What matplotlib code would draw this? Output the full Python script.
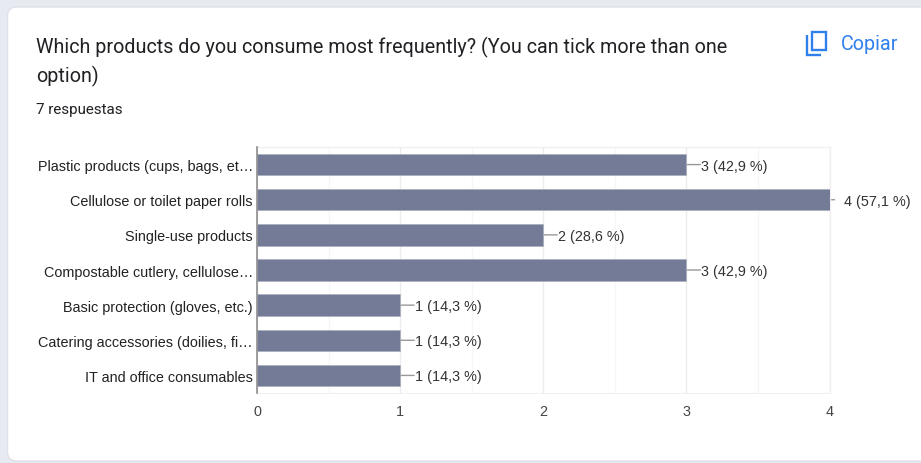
import matplotlib
matplotlib.use("Agg")
import matplotlib.pyplot as plt
from matplotlib.patches import FancyBboxPatch, Rectangle
from matplotlib.path import Path
from matplotlib.patches import PathPatch
from matplotlib.transforms import IdentityTransform

categories = [
    "Plastic products (cups, bags, et…",
    "Cellulose or toilet paper rolls",
    "Single-use products",
    "Compostable cutlery, cellulose…",
    "Basic protection (gloves, etc.)",
    "Catering accessories (doilies, fi…",
    "IT and office consumables",
]
counts = [3, 4, 2, 3, 1, 1, 1]
shares = ["42,9", "57,1", "28,6", "42,9", "14,3", "14,3", "14,3"]
x_ticks = [0, 1, 2, 3, 4]
x_minor = [0.5, 1.5, 2.5, 3.5]

W, H = 921, 464
BAR = "#737b96"
TEXT = "#202124"
LABEL = "#333333"
BLUE = "#2f80ed"

fig = plt.figure(figsize=(W / 100, H / 100), dpi=100, facecolor="#e8eaf1")


def px(x, y):
    return x, H - y


# Card behind the question
card = FancyBboxPatch((7.5, 2), W + 40, H - 10, boxstyle="round,pad=0,rounding_size=9",
                      transform=IdentityTransform(), fc="white", ec="#dfe1e8", lw=1, zorder=-5)
fig.add_artist(card)

fig.text(36 / W, 1 - 47 / H, "Which products do you consume most frequently? (You can tick more than one",
         family="Roboto", fontsize=14.25, color=TEXT, va="center", ha="left")
fig.text(36 / W, 1 - 76 / H, "option)", family="Roboto", fontsize=14.25, color=TEXT, va="center", ha="left")
fig.text(36 / W, 1 - 110 / H, "7 respuestas", family="Roboto", fontsize=10.9, color=TEXT, va="center", ha="left")
fig.text(841 / W, 1 - 44.5 / H, "Copiar", family="Roboto", fontsize=14.2, color=BLUE, va="center", ha="left")

# Copy icon
fig.add_artist(Rectangle(px(812, 51), 14, 18, transform=IdentityTransform(), fc="none", ec=BLUE, lw=1.7))
hook = Path([px(821, 55.5), px(807, 55.5), px(807, 36)])
fig.add_artist(PathPatch(hook, transform=IdentityTransform(), fc="none", ec=BLUE, lw=1.7))

ax = fig.add_axes([257 / W, 1 - 394 / H, (829.5 - 257) / W, (394 - 148) / H])
ax.set_facecolor("none")
positions = list(range(len(categories)))
ax.barh(positions, counts, height=0.61, color=BAR, edgecolor="#a9aec0", linewidth=0.5, zorder=3)
ax.set_xlim(0, 4)
ax.set_ylim(len(categories) - 0.5, -0.5)

ax.set_xticks(x_ticks)
ax.set_xticks(x_minor, minor=True)
ax.set_yticks(positions, categories)
ax.grid(axis="x", which="major", color="#ececec", lw=1, zorder=0)
ax.grid(axis="x", which="minor", color="#f6f6f6", lw=1, zorder=0)
ax.tick_params(axis="both", which="both", length=0)
ax.tick_params(axis="y", pad=3, labelsize=10.4, labelcolor="#222222")
ax.tick_params(axis="x", pad=8, labelsize=10.4, labelcolor="#444444")
for label in ax.get_xticklabels() + ax.get_yticklabels():
    label.set_family("Liberation Sans")

for side in ("top", "right"):
    ax.spines[side].set_color("#f0f0f0")
    ax.spines[side].set_linewidth(1)
ax.spines["bottom"].set_color("#f0f0f0")
ax.spines["left"].set_color("#8d8d8d")
ax.spines["left"].set_linewidth(1.2)
ax.spines["left"].set_zorder(5)

# Value callouts with their short leader lines
for pos, value, share in zip(positions, counts, shares):
    at_edge = value == max(counts)
    lead = 5 if at_edge else 14
    gap = 14 if at_edge else 15
    ax.annotate("", xy=(value, pos), xytext=(lead, 0), textcoords="offset pixels",
                arrowprops=dict(arrowstyle="-", color="#999999", lw=1, shrinkA=0, shrinkB=0),
                annotation_clip=False, zorder=2)
    ax.annotate(f"{value} ({share} %)", xy=(value, pos), xytext=(gap, -1), textcoords="offset pixels",
                va="center", ha="left", family="Liberation Sans", fontsize=10.4, color=LABEL,
                annotation_clip=False)

fig.savefig("out.png", dpi=100, facecolor=fig.get_facecolor())
